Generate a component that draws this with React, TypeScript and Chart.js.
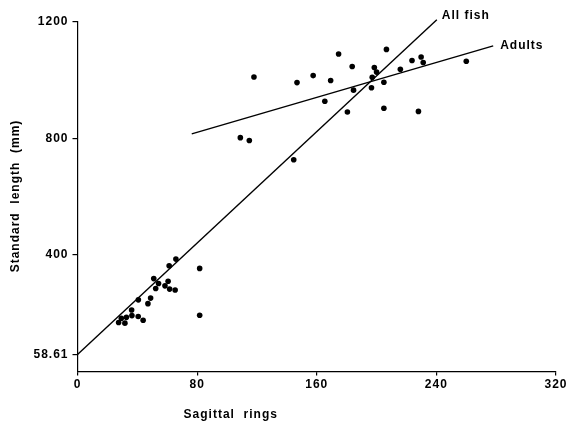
import { useEffect, useRef } from 'react';
import { Chart, registerables } from 'chart.js';

Chart.register(...registerables);

// Sagittal rings (x) and standard length in mm (y) of each fish
const ringsX = [
  118, 146.8, 157.6, 169.3, 174.6, 183.7, 165.4, 184.6, 180.5, 196.6,
  197.1, 198.5, 200, 204.9, 206.6, 204.9, 215.9, 223.7, 229.8, 231.2,
  228, 260, 108.9, 114.9, 144.6, 81.7, 81.7, 65.8, 61.3, 60.6,
  51, 52.3, 54.2, 58.5, 61.6, 65.3, 48.9, 47.1, 40.7, 36.2,
  36.4, 40.6, 43.9, 32.7, 29.3, 27.5, 31.7,
];
const lengthY = [
  1011, 992, 1016, 999, 1090, 1047, 928, 966, 891, 974,
  1010, 1044, 1028, 993, 1106, 904, 1038, 1068, 1080, 1061,
  893, 1065, 803, 793, 727, 354, 193, 386, 363, 310,
  319, 285, 302, 294, 283, 280, 252, 233, 246, 211,
  192, 189, 176, 186, 183, 168, 166,
];

// Regression lines (end points)
const allFishLineX = [0, 240.3];
const allFishLineY = [58.61, 1208];
const adultsLineX = [76.4, 278];
const adultsLineY = [816, 1118];

// Axis ticks
const xTicks = [0, 80, 160, 240, 320];
const yTicks = [58.61, 400, 800, 1200];

const FONT = '"Liberation Sans", Arial, Helvetica, sans-serif';

export default function App() {
  const ref = useRef<HTMLCanvasElement | null>(null);

  useEffect(() => {
    if (!ref.current) return;

    const spacing = {
      id: 'spacing',
      beforeLayout(chart: any) {
        chart.ctx.letterSpacing = '1px';
      },
      beforeDraw(chart: any) {
        chart.ctx.letterSpacing = '1px';
      },
    };

    const annot = {
      id: 'annot',
      afterDraw(chart: any) {
        const { ctx, scales } = chart;
        const x = scales.x;
        const y = scales.y;
        ctx.save();
        ctx.letterSpacing = '1px';
        ctx.fillStyle = '#000';
        ctx.font = `bold 12px ${FONT}`;
        ctx.textBaseline = 'middle';
        ctx.textAlign = 'left';
        ctx.fillText(
          'All fish',
          x.getPixelForValue(allFishLineX[1]) + 5,
          y.getPixelForValue(allFishLineY[1]) - 4
        );
        ctx.fillText(
          'Adults',
          x.getPixelForValue(adultsLineX[1]) + 7,
          y.getPixelForValue(adultsLineY[1])
        );
        ctx.textAlign = 'center';
        ctx.fillText('Sagittal  rings', x.getPixelForValue(102.5), 415);
        ctx.translate(16, 196);
        ctx.rotate(-Math.PI / 2);
        ctx.fillText('Standard  length  (mm)', 0, 0);
        ctx.restore();
      },
    };

    const tickFont = { family: FONT, size: 12, weight: 'bold' as const };

    const chart = new Chart(ref.current, {
      type: 'scatter',
      data: {
        datasets: [
          {
            label: 'Fish',
            data: ringsX.map((v, i) => ({ x: v, y: lengthY[i] })),
            pointRadius: 2.8,
            pointBackgroundColor: '#000',
            pointBorderWidth: 0,
            showLine: false,
          },
          {
            label: 'All fish',
            data: allFishLineX.map((v, i) => ({ x: v, y: allFishLineY[i] })),
            showLine: true,
            pointRadius: 0,
            borderColor: '#000',
            borderWidth: 1.4,
            clip: false as any,
          },
          {
            label: 'Adults',
            data: adultsLineX.map((v, i) => ({ x: v, y: adultsLineY[i] })),
            showLine: true,
            pointRadius: 0,
            borderColor: '#000',
            borderWidth: 1.4,
            clip: false as any,
          },
        ],
      },
      options: {
        responsive: false,
        animation: false,
        devicePixelRatio: 1,
        layout: { padding: { top: 22, right: 14, left: 0, bottom: 0 } },
        plugins: {
          legend: { display: false },
          tooltip: { enabled: false },
        },
        scales: {
          x: {
            type: 'linear',
            min: 0,
            max: 320,
            afterBuildTicks: (s: any) => {
              s.ticks = xTicks.map((v) => ({ value: v }));
            },
            afterFit: (s: any) => {
              s.height = 53.5;
            },
            grid: {
              display: true,
              drawOnChartArea: false,
              drawTicks: true,
              tickLength: 4,
              color: '#000',
              lineWidth: 1.2,
            },
            border: { display: true, color: '#000', width: 1.2 },
            ticks: {
              color: '#000',
              font: tickFont,
              padding: 2,
              maxRotation: 0,
              autoSkip: false,
              callback: (v: any) => String(v),
            },
          },
          y: {
            type: 'linear',
            min: 0,
            max: 1200,
            afterBuildTicks: (s: any) => {
              s.ticks = yTicks.map((v) => ({ value: v }));
            },
            afterFit: (s: any) => {
              s.width = 77.5;
            },
            grid: {
              display: true,
              drawOnChartArea: false,
              drawTicks: true,
              tickLength: 5,
              color: '#000',
              lineWidth: 1.2,
            },
            border: { display: true, color: '#000', width: 1.2 },
            ticks: {
              color: '#000',
              font: tickFont,
              padding: 4,
              autoSkip: false,
              callback: (v: any) => String(v),
            },
          },
        },
      },
      plugins: [spacing, annot],
    });

    return () => chart.destroy();
  }, []);

  return (
    <div style={{ position: 'absolute', left: 0, top: 0, width: 570, height: 425, background: '#fff' }}>
      <canvas ref={ref} width={570} height={425} style={{ width: 570, height: 425, display: 'block' }} />
    </div>
  );
}
